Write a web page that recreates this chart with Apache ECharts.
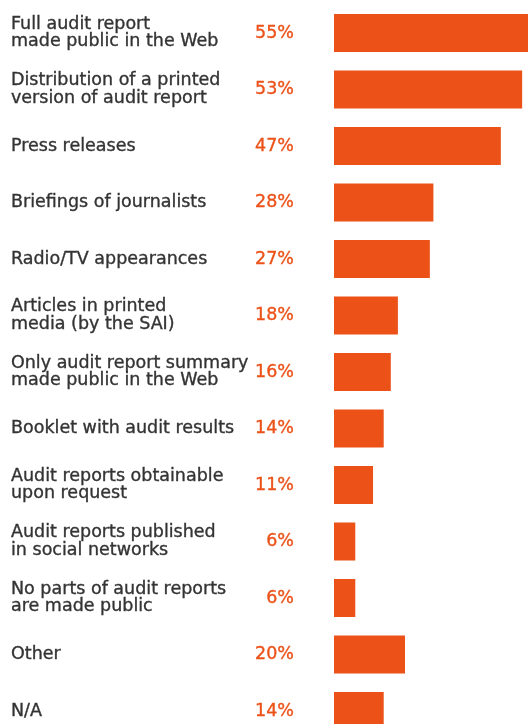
<!DOCTYPE html>
<html>
<head>
<meta charset="utf-8">
<style>
  html, body { margin: 0; padding: 0; background: #ffffff; }
  #chart { width: 528px; height: 724px; }
</style>
<script src="https://cdn.jsdelivr.net/npm/echarts@6/dist/echarts.min.js"></script>
</head>
<body>
<div id="chart"></div>
<script>
// Ways audit results are communicated, share of respondents (%)
const categories = [
  'Full audit report\nmade public in the Web',
  'Distribution of a printed\nversion of audit report',
  'Press releases',
  'Briefings of journalists',
  'Radio/TV appearances',
  'Articles in printed\nmedia (by the SAI)',
  'Only audit report summary\nmade public in the Web',
  'Booklet with audit results',
  'Audit reports obtainable\nupon request',
  'Audit reports published\nin social networks',
  'No parts of audit reports\nare made public',
  'Other',
  'N/A'
];
const shares = [55, 53, 47, 28, 27, 18, 16, 14, 11, 6, 6, 20, 14];

const ORANGE = '#EC5118';
const TEXT = '#333333';
const FONT = '"DejaVu Sans", sans-serif';

// The last label sits a little higher than its bar
const axisItems = categories.map(name =>
  name === 'N/A'
    ? { value: name, textStyle: { align: 'left', padding: [0, 0, 16, 0] } }
    : name
);

const chart = echarts.init(document.getElementById('chart'), null, { renderer: 'canvas' });

chart.setOption({
  animation: false,
  backgroundColor: '#ffffff',
  grid: {
    left: 334, top: 4.75, width: 195.25, height: 734.5,
    outerBoundsMode: 'none'
  },
  xAxis: {
    type: 'value', min: 0, max: 55, show: false
  },
  yAxis: {
    type: 'category',
    inverse: true,
    data: axisItems,
    axisLine: { show: false },
    axisTick: { show: false },
    splitLine: { show: false },
    axisLabel: {
      align: 'left',
      margin: 323,
      color: TEXT,
      fontFamily: FONT,
      fontSize: 17.5,
      lineHeight: 17.5,
      padding: [0, 0, 3, 0],
      textBorderColor: TEXT,
      textBorderWidth: 0.35
    }
  },
  series: [{
    type: 'bar',
    data: shares,
    barWidth: 38,
    itemStyle: { color: ORANGE },
    label: {
      show: true,
      position: [-40, '50%'],
      align: 'right',
      verticalAlign: 'middle',
      formatter: p => p.value + '%',
      color: ORANGE,
      fontFamily: FONT,
      fontSize: 17.5,
      textBorderColor: ORANGE,
      textBorderWidth: 0.35
    }
  }]
});
</script>
</body>
</html>
